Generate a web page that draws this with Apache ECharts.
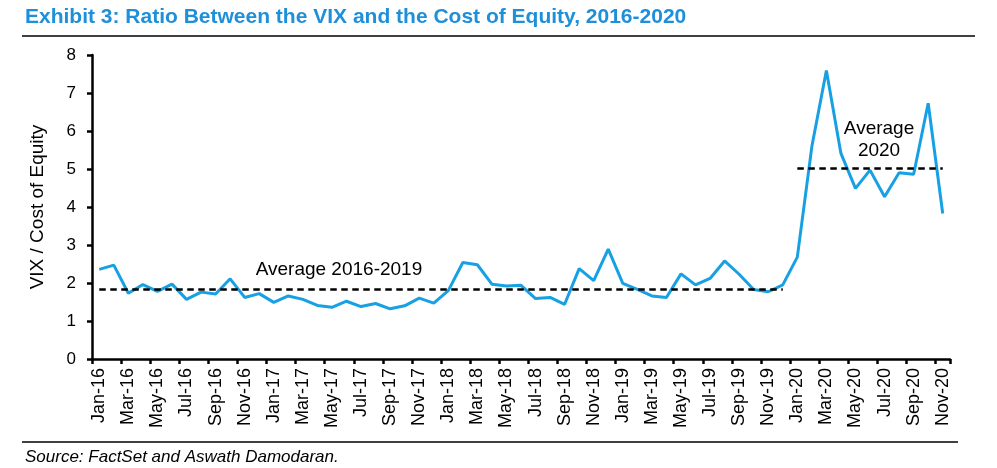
<!DOCTYPE html>
<html>
<head>
<meta charset="utf-8">
<script src="https://cdn.jsdelivr.net/npm/echarts@6/dist/echarts.min.js"></script>
<style>
html,body{margin:0;padding:0;background:#fff;}
#chart{width:997px;height:468px;}
</style>
</head>
<body>
<div id="chart"></div>
<script>
const months = ['Jan-16','Feb-16','Mar-16','Apr-16','May-16','Jun-16','Jul-16','Aug-16','Sep-16','Oct-16','Nov-16','Dec-16',
'Jan-17','Feb-17','Mar-17','Apr-17','May-17','Jun-17','Jul-17','Aug-17','Sep-17','Oct-17','Nov-17','Dec-17',
'Jan-18','Feb-18','Mar-18','Apr-18','May-18','Jun-18','Jul-18','Aug-18','Sep-18','Oct-18','Nov-18','Dec-18',
'Jan-19','Feb-19','Mar-19','Apr-19','May-19','Jun-19','Jul-19','Aug-19','Sep-19','Oct-19','Nov-19','Dec-19',
'Jan-20','Feb-20','Mar-20','Apr-20','May-20','Jun-20','Jul-20','Aug-20','Sep-20','Oct-20','Nov-20'];

const ratio = [2.36,2.47,1.73,1.96,1.78,1.97,1.57,1.76,1.71,2.11,1.62,1.72,
1.49,1.66,1.57,1.41,1.36,1.52,1.38,1.46,1.32,1.40,1.60,1.47,
1.80,2.54,2.48,1.97,1.92,1.94,1.59,1.62,1.44,2.38,2.06,2.89,
1.99,1.83,1.66,1.62,2.24,1.95,2.12,2.58,2.23,1.83,1.77,1.95,
2.68,5.59,7.59,5.41,4.49,4.97,4.27,4.90,4.86,6.73,3.83];

const avg2016_2019 = 1.84;
const avg2020 = 5.03;
const yTicks = [0,1,2,3,4,5,6,7,8];

const FONT = 'Liberation Sans, Arial, sans-serif';
const chart = echarts.init(document.getElementById('chart'));
chart.setOption({
  animation: false,
  backgroundColor: '#fff',
  title: [
    {text: 'Exhibit 3: Ratio Between the VIX and the Cost of Equity, 2016-2020', left: 20, top: 2,
     textStyle: {fontFamily: FONT, fontSize: 21, fontWeight: 'bold', color: '#1e8fd9'}},
    {text: 'Source: FactSet and Aswath Damodaran.', left: 20, top: 444,
     textStyle: {fontFamily: FONT, fontSize: 17, fontWeight: 'normal', fontStyle: 'italic', color: '#000'}}
  ],
  graphic: [
    {type: 'line', shape: {x1: 22, y1: 36, x2: 975, y2: 36}, style: {stroke: '#000', lineWidth: 1.5}},
    {type: 'line', shape: {x1: 22, y1: 442, x2: 958, y2: 442}, style: {stroke: '#000', lineWidth: 1.5}}
  ],
  grid: {left: 92, right: 47, top: 55, bottom: 109},
  xAxis: {
    type: 'category', data: months, boundaryGap: true,
    axisLine: {lineStyle: {color: '#000', width: 2.5}},
    axisTick: {show: true, interval: 1, length: 5, lineStyle: {color: '#000', width: 2.5}},
    axisLabel: {interval: 1, rotate: 90, margin: 9, fontFamily: FONT, fontSize: 18, color: '#000'},
    splitLine: {show: false}
  },
  yAxis: {
    type: 'value', min: yTicks[0], max: yTicks[yTicks.length-1], interval: 1,
    name: 'VIX / Cost of Equity', nameLocation: 'middle', nameGap: 45, nameRotate: 90,
    nameTextStyle: {fontFamily: FONT, fontSize: 19, color: '#000'},
    axisLine: {show: true, lineStyle: {color: '#000', width: 2.5}},
    axisTick: {show: true, length: 5, lineStyle: {color: '#000', width: 2.5}},
    axisLabel: {margin: 16, fontFamily: FONT, fontSize: 17, color: '#000'},
    splitLine: {show: false}
  },
  series: [{
    type: 'line', data: ratio, showSymbol: false, smooth: false,
    lineStyle: {color: '#17a0e3', width: 3},
    z: 3,
    markLine: {
      silent: true, symbol: 'none',
      lineStyle: {color: '#000', width: 2.5, type: [6.5, 4.5]},
      label: {show: false},
      data: [
        [{coord: [months[0], avg2016_2019]}, {coord: ['Dec-19', avg2016_2019]}],
        [{coord: ['Jan-20', avg2020]}, {coord: ['Nov-20', avg2020]}]
      ]
    },
    markPoint: {
      silent: true, symbol: 'circle', symbolSize: 0,
      label: {show: true, position: 'inside', fontFamily: FONT, fontSize: 19, color: '#000', lineHeight: 22},
      data: [
        {coord: ['May-17', 2.34], label: {formatter: 'Average 2016-2019', offset: [7, 0]}},
        {coord: ['Jun-20', 5.76], label: {formatter: 'Average\n2020', offset: [9, 0], align: 'center'}}
      ]
    }
  }]
});
</script>
</body>
</html>
